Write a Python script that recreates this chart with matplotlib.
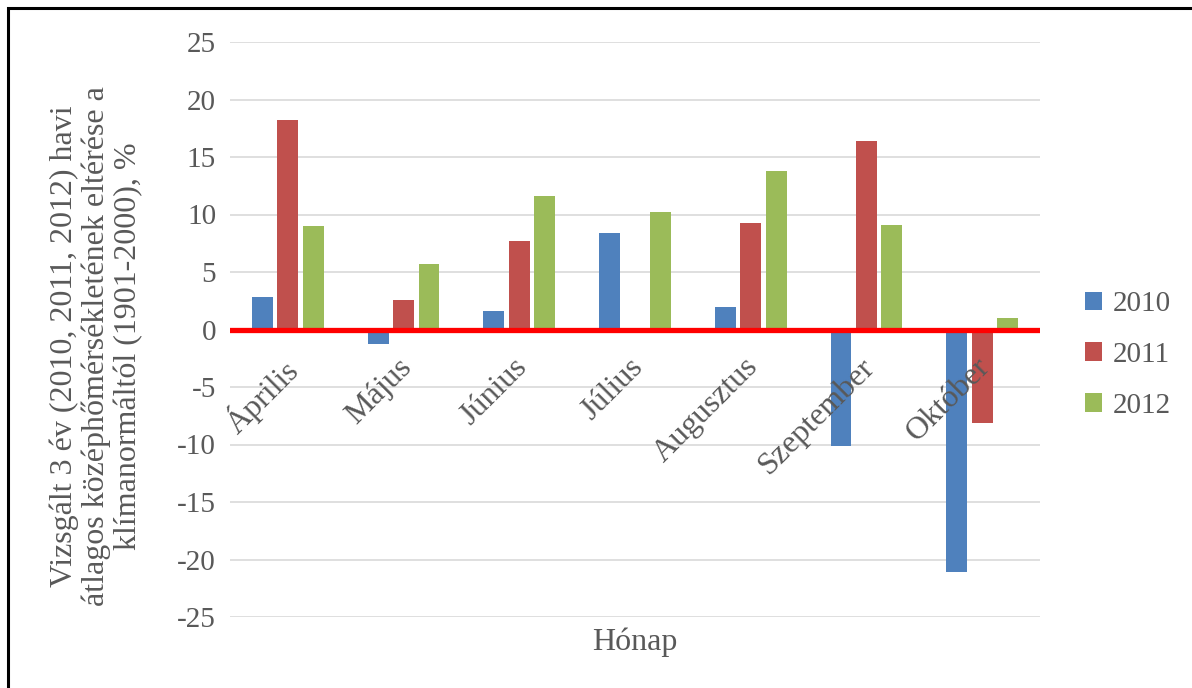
import matplotlib
matplotlib.use("Agg")
import matplotlib.pyplot as plt
import numpy as np
from matplotlib.patches import Rectangle

months = ["Április", "Május", "Június", "Július", "Augusztus", "Szeptember", "Október"]
y2010 = [2.8, -1.3, 1.6, 8.35, 2.0, -10.1, -21.1]
y2011 = [18.2, 2.6, 7.7, 0.0, 9.3, 16.4, -8.1]
y2012 = [9.0, 5.7, 11.6, 10.2, 13.8, 9.1, 1.0]
years = ["2010", "2011", "2012"]
colors = ["#4F81BD", "#C0504D", "#9BBB59"]
yticks = [25, 20, 15, 10, 5, 0, -5, -10, -15, -20, -25]

plt.rcParams["font.family"] = ["Liberation Serif", "DejaVu Serif"]
txt = "#595959"

fig = plt.figure(figsize=(11.92, 6.88), dpi=100)
ax = fig.add_axes([230 / 1192, 1 - 617 / 688, 810 / 1192, 575 / 688])

x = np.arange(len(months))
w = 0.18
for i, (vals, c, lab) in enumerate(zip([y2010, y2011, y2012], colors, years)):
    ax.bar(x + (i - 1) * 0.22, vals, width=w, color=c, label=lab, zorder=2)

ax.set_xlim(-0.5, len(months) - 0.5)
ax.set_ylim(-25, 25)
ax.set_yticks(yticks)
ax.set_yticklabels([str(t) for t in yticks], fontsize=21, color=txt)
ax.tick_params(axis="y", length=0, pad=10)
ax.set_xticks([])
for s in ax.spines.values():
    s.set_visible(False)
for t in yticks:
    if t != 0:
        ax.axhline(t, color="#d9d9d9", lw=1.2, zorder=0)
ax.axhline(0, color="#ff0000", lw=3.8, zorder=3)

for xi, m in zip(x, months):
    ax.text(xi - 0.06, -2.0, m, rotation=45, rotation_mode="anchor",
            ha="right", va="top", fontsize=23, color=txt, zorder=4)

fig.text(635 / 1192, 1 - 642 / 688, "Hónap", ha="center", va="center",
         fontsize=23, color=txt)
fig.text(96 / 1192, 1 - 346 / 688,
         "Vizsgált 3 év (2010, 2011, 2012) havi\n"
         "átlagos középhőmérsékletének eltérése a\n"
         "klímanormáltól (1901-2000), %",
         rotation=90, ha="center", va="center", fontsize=23, color=txt,
         linespacing=1.12, multialignment="center")

leg = fig.legend(loc="center left", bbox_to_anchor=(1073 / 1192, 1 - 355 / 688),
                 frameon=False, fontsize=21, handlelength=0.6, handleheight=0.6,
                 handletextpad=0.35, labelspacing=0.85, borderaxespad=0)
for t in leg.get_texts():
    t.set_color(txt)

fig.patches.append(Rectangle((8 / 1192, -0.01), 1.02, 1 - 8 / 688 + 0.01,
                             transform=fig.transFigure, fill=False,
                             edgecolor="black", lw=2.2))

fig.savefig("out.png", dpi=100)
